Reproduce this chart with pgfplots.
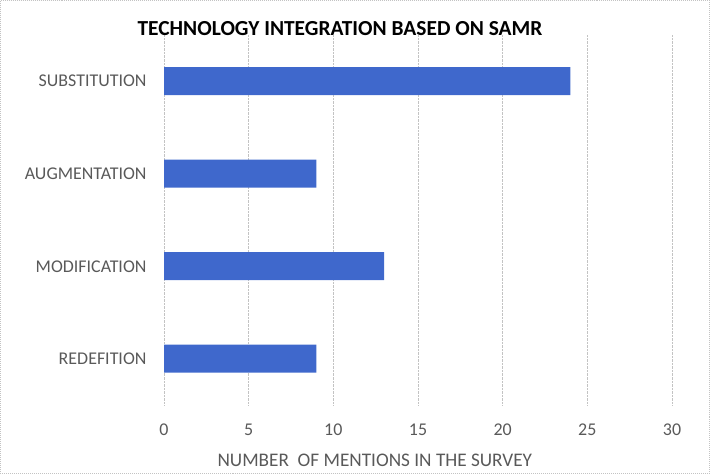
\documentclass[border=0pt]{standalone}
\usepackage{pgfplots}
\pgfplotsset{compat=1.18}
\usepackage{fontspec}
\setmainfont{Carlito}
\definecolor{barblue}{RGB}{63,104,204}
\definecolor{txtgray}{RGB}{89,89,89}
\definecolor{gridgray}{RGB}{195,195,195}

\begin{document}
\begin{tikzpicture}
\useasboundingbox (0,0) rectangle (710bp,474bp);
\draw[gridgray, densely dotted, line width=1bp] (0.5bp,0.5bp) rectangle (709.5bp,473.5bp);
\begin{axis}[
  at={(164bp,69bp)}, anchor=south west,
  scale only axis, width=508bp, height=370bp,
  xbar, bar width=28bp,
  xmin=0, xmax=30, ymin=-0.5, ymax=3.5,
  xtick={0,5,...,30},
  ytick={0,1,2,3},
  yticklabels={REDEFITION,MODIFICATION,AUGMENTATION,SUBSTITUTION\ },
  axis line style={draw=none},
  major tick length=0pt,
  xmajorgrids, grid style={gridgray, densely dotted, line width=0.9bp},
  ticklabel style={font=\fontsize{18}{20}\selectfont, text=txtgray},
  /pgf/number format/assume math mode=true,
  xticklabel style={anchor=center, yshift=-25bp},
  yticklabel style={anchor=east, xshift=-14bp},
  xlabel={NUMBER\ \ OF MENTIONS IN THE SURVEY},
  xlabel style={at={(0.415,0)}, anchor=center, yshift=-55bp, font=\fontsize{19.3}{21}\selectfont, text=txtgray},
]
\addplot[fill=barblue, draw=none] coordinates {(9,0) (13,1) (9,2) (24,3)};
\end{axis}
\node[font=\bfseries\fontsize{21.5}{24}\selectfont] at (340bp,445bp) {TECHNOLOGY INTEGRATION BASED ON SAMR};
\end{tikzpicture}
\end{document}
